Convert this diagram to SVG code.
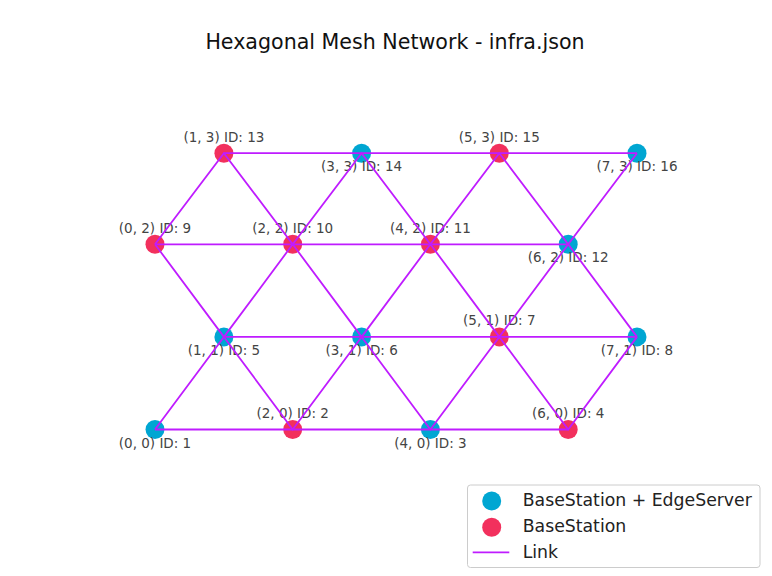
<svg xmlns="http://www.w3.org/2000/svg" width="772" height="576" viewBox="0 0 772 576">
<style>
.bs{fill:#f2305d}
.es{fill:#00a6d2}
.lk{stroke:#bf1cff;stroke-width:1.8;fill:none}
.lbl{font-family:"DejaVu Sans",sans-serif;font-size:13.5px;fill:#444;text-anchor:middle}
.leg{font-family:"DejaVu Sans",sans-serif;font-size:17.3px;fill:#222}
.ttl{font-family:"DejaVu Sans",sans-serif;font-size:20.6px;fill:#111;text-anchor:middle}
</style>
<rect width="772" height="576" fill="#fff"/>
<text class="ttl" x="395" y="49">Hexagonal Mesh Network - infra.json</text>
<g id="nodes">
<g id="n1"><circle class="es" cx="155" cy="429.5" r="9.5"/><text class="lbl" x="155" y="447.5">(0, 0) ID: 1</text></g>
<g id="n2"><circle class="bs" cx="292.7" cy="429.5" r="9.5"/><text class="lbl" x="292.7" y="418">(2, 0) ID: 2</text></g>
<g id="n3"><circle class="es" cx="430.4" cy="429.5" r="9.5"/><text class="lbl" x="430.4" y="447.5">(4, 0) ID: 3</text></g>
<g id="n4"><circle class="bs" cx="568.2" cy="429.5" r="9.5"/><text class="lbl" x="568.2" y="418">(6, 0) ID: 4</text></g>
<g id="n5"><circle class="es" cx="223.9" cy="336.9" r="9.5"/><text class="lbl" x="223.9" y="354.9">(1, 1) ID: 5</text></g>
<g id="n6"><circle class="es" cx="361.6" cy="336.9" r="9.5"/><text class="lbl" x="361.6" y="354.9">(3, 1) ID: 6</text></g>
<g id="n7"><circle class="bs" cx="499.3" cy="336.9" r="9.5"/><text class="lbl" x="499.3" y="325.4">(5, 1) ID: 7</text></g>
<g id="n8"><circle class="es" cx="637" cy="336.9" r="9.5"/><text class="lbl" x="637" y="354.9">(7, 1) ID: 8</text></g>
<g id="n9"><circle class="bs" cx="155" cy="244.3" r="9.5"/><text class="lbl" x="155" y="232.8">(0, 2) ID: 9</text></g>
<g id="n10"><circle class="bs" cx="292.7" cy="244.3" r="9.5"/><text class="lbl" x="292.7" y="232.8">(2, 2) ID: 10</text></g>
<g id="n11"><circle class="bs" cx="430.4" cy="244.3" r="9.5"/><text class="lbl" x="430.4" y="232.8">(4, 2) ID: 11</text></g>
<g id="n12"><circle class="es" cx="568.2" cy="244.3" r="9.5"/><text class="lbl" x="568.2" y="262.3">(6, 2) ID: 12</text></g>
<g id="n13"><circle class="bs" cx="223.9" cy="153.2" r="9.5"/><text class="lbl" x="223.9" y="141.7">(1, 3) ID: 13</text></g>
<g id="n14"><circle class="es" cx="361.6" cy="153.2" r="9.5"/><text class="lbl" x="361.6" y="171.2">(3, 3) ID: 14</text></g>
<g id="n15"><circle class="bs" cx="499.3" cy="153.2" r="9.5"/><text class="lbl" x="499.3" y="141.7">(5, 3) ID: 15</text></g>
<g id="n16"><circle class="es" cx="637" cy="153.2" r="9.5"/><text class="lbl" x="637" y="171.2">(7, 3) ID: 16</text></g>
</g>
<g id="links" class="lk">
<path d="M155 429.5H568.2M223.9 336.9H637M155 244.3H568.2M223.9 153.2H637"/>
<path d="M155 429.5L223.9 336.9L292.7 429.5L361.6 336.9L430.4 429.5L499.3 336.9L568.2 429.5L637 336.9"/>
<path d="M155 244.3L223.9 336.9L292.7 244.3L361.6 336.9L430.4 244.3L499.3 336.9L568.2 244.3L637 336.9"/>
<path d="M155 244.3L223.9 153.2L292.7 244.3L361.6 153.2L430.4 244.3L499.3 153.2L568.2 244.3L637 153.2"/>
</g>
<g id="legend">
<rect x="467.5" y="485" width="292.5" height="82.5" rx="3" fill="#fff" fill-opacity="0.8" stroke="#ccc" stroke-width="1"/>
<circle class="es" cx="491.7" cy="501" r="9.5"/>
<text class="leg" x="522.7" y="506">BaseStation + EdgeServer</text>
<circle class="bs" cx="491.7" cy="527.3" r="9.5"/>
<text class="leg" x="522.7" y="532">BaseStation</text>
<line class="lk" x1="472.7" y1="552.3" x2="509.3" y2="552.3"/>
<text class="leg" x="522.7" y="558">Link</text>
</g>
</svg>
